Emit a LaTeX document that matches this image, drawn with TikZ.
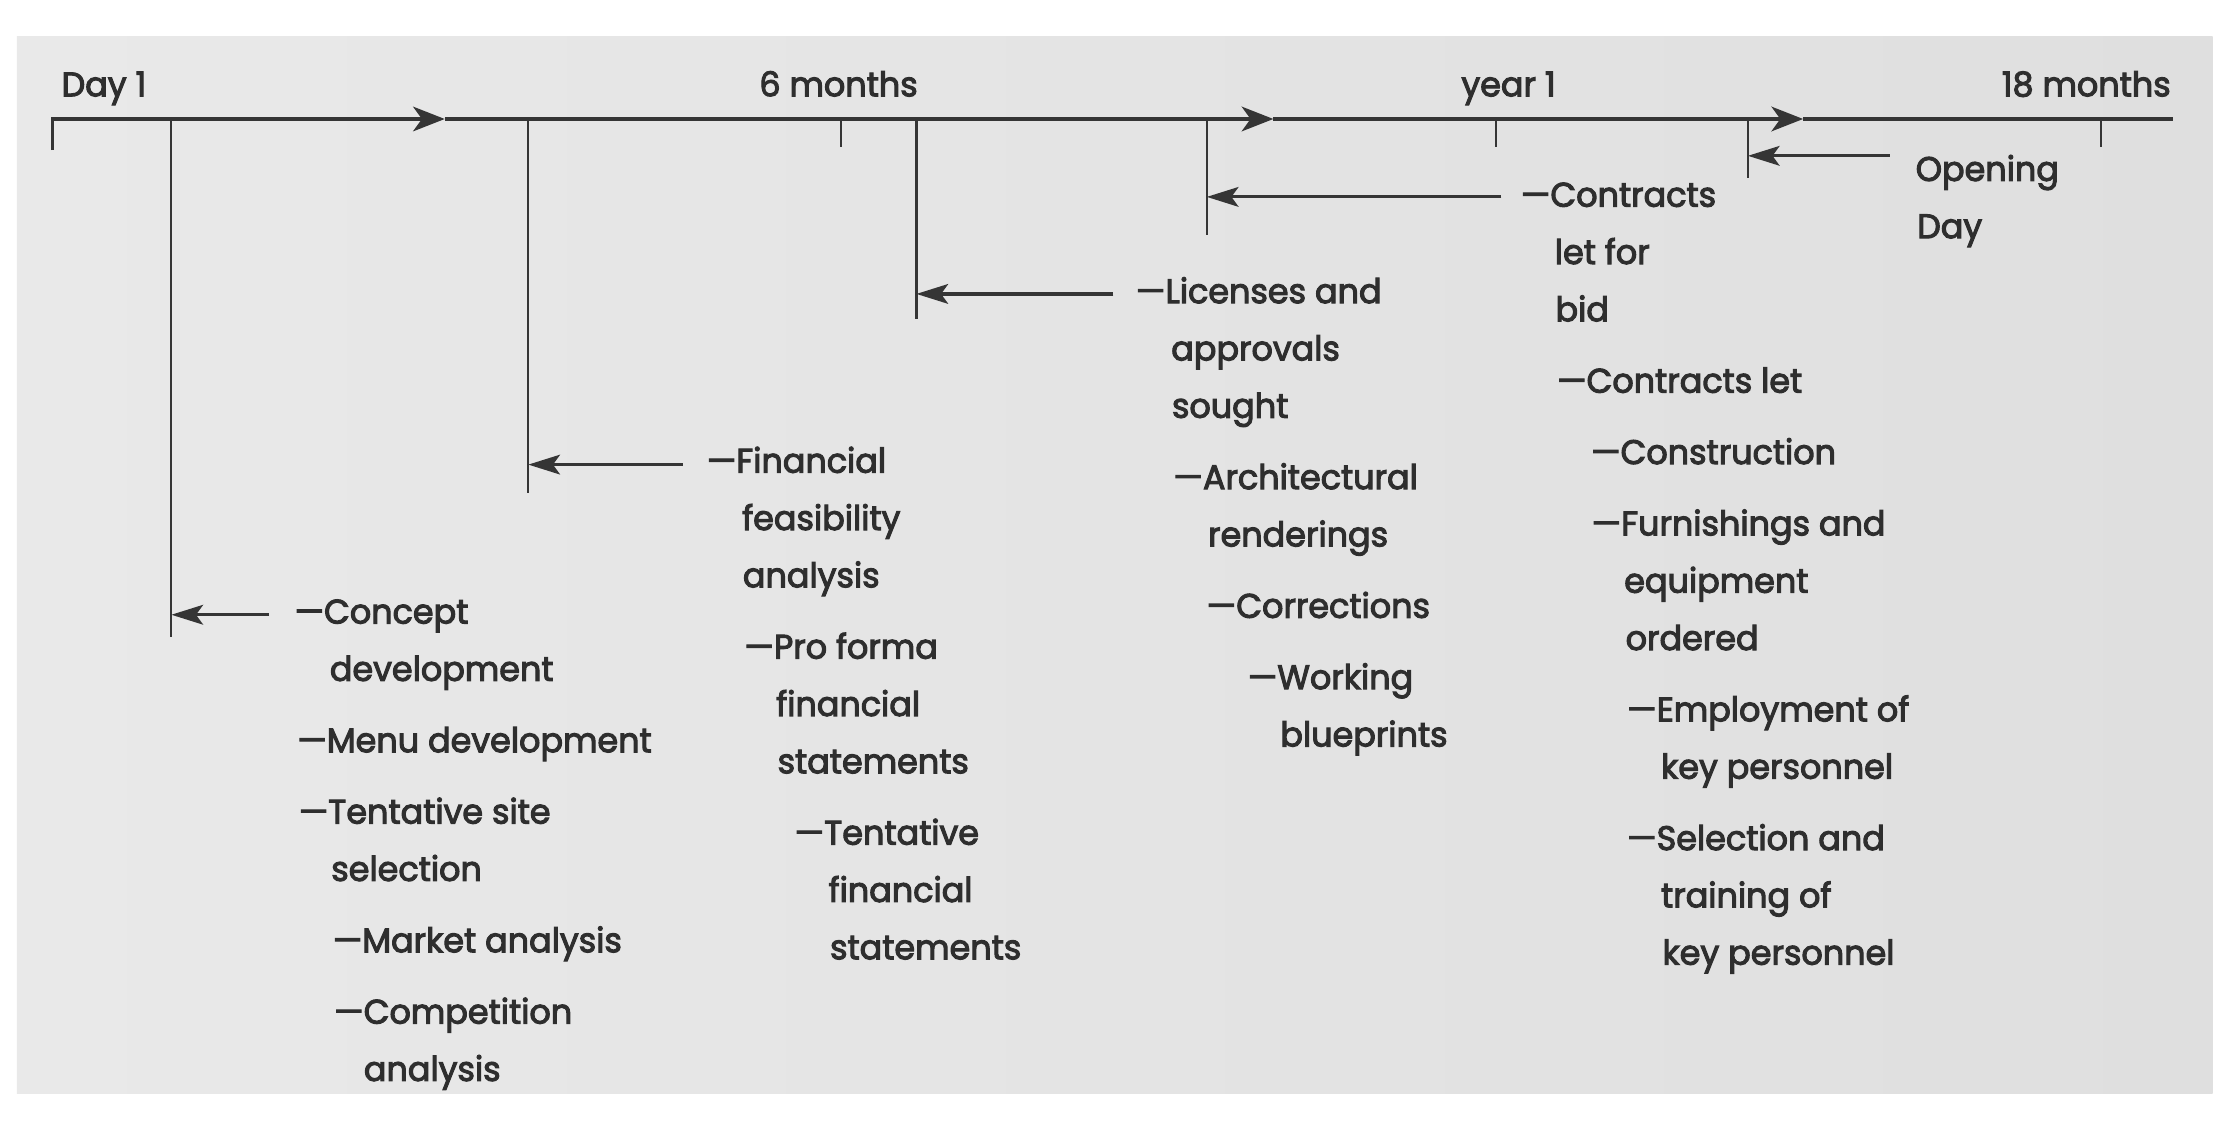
\documentclass[tikz,border=0pt]{standalone}
\usepackage{fontspec}
\setmainfont{Poppins}[FakeBold=3, FakeStretch=0.98]
\usetikzlibrary{arrows.meta}
\definecolor{ink}{HTML}{2E2E2E}
\definecolor{linec}{HTML}{353535}
\definecolor{paperl}{HTML}{E9E9E9}
\definecolor{paperr}{HTML}{DFDFDF}
\newlength{\upx}\setlength{\upx}{0.403pt}
\newcommand{\sh}[1]{\hspace*{#1\upx}}
\begin{document}
\begin{tikzpicture}[x=0.014165cm, y=-0.014165cm,
    task/.style={anchor=north west, inner sep=0pt, align=left, text=ink, font=\fontsize{9.7}{16.3}\selectfont},
    period/.style={inner sep=0pt, text=ink, font=\fontsize{9.7}{16.3}\selectfont},
    tline/.style={draw=linec, line width=1pt},
    drop/.style={draw=linec, line width=0.6pt},
    tarr/.style={tline, -{Stealth[length=9pt,width=7pt,inset=2.5pt]}},
    larr/.style={draw=linec, line width=0.9pt, -{Stealth[length=9pt,width=5.6pt,inset=2pt]}}]
  \useasboundingbox (0,0) rectangle (1568,797.7);
  \fill[white] (0,0) rectangle (1568,797.7);
  \shade[left color=paperl, right color=paperr] (12,26) rectangle (1562,772);

  % time line
  \coordinate (t0)  at (37,84);
  \coordinate (t0b) at (37,106);
  \coordinate (h1)  at (314,84);
  \coordinate (h2)  at (899,84);
  \coordinate (h3)  at (1273,84);
  \coordinate (t1)  at (1534,84);
  \draw[tarr] (t0b) -- (t0) -- (h1);
  \draw[tarr] (h1) -- (h2);
  \draw[tarr] (h2) -- (h3);
  \draw[tline] (h3) -- (t1);

  \coordinate (m6)   at (594,84);
  \coordinate (m6b)  at (594,104);
  \coordinate (y1)   at (1056,84);
  \coordinate (y1b)  at (1056,104);
  \coordinate (m18)  at (1483,84);
  \coordinate (m18b) at (1483,104);
  \draw[drop] (m6) -- (m6b);
  \draw[drop] (y1) -- (y1b);
  \draw[drop] (m18) -- (m18b);

  \node (day)    [period, anchor=base west] at (43,68)   {Day 1};
  \node (six)    [period, anchor=base]      at (592,68)  {6 months};
  \node (year)   [period, anchor=base]      at (1065,68) {year 1};
  \node (eight)  [period, anchor=base east] at (1533,68) {18 months};

  % drops from the time line
  \coordinate (dA) at (121,450);
  \coordinate (dB) at (373,348);
  \coordinate (dC) at (647,225);
  \coordinate (dD) at (852,166);
  \coordinate (dE) at (1234,126);
  \draw[drop] (dA |- t0) -- (dA);
  \draw[drop] (dB |- t0) -- (dB);
  \draw[drop] (dC |- t0) -- (dC);
  \draw[drop] (dD |- t0) -- (dD);
  \draw[drop] (dE |- t0) -- (dE);

  % stages
  \node (concept) [task] at (207.4,411.4) {\strut—Concept\\
    \sh{25}development\\[4pt]
    \sh{2}—Menu development\\[4pt]
    \sh{3}—Tentative site\\
    \sh{26}selection\\[4pt]
    \sh{27}—Market analysis\\[4pt]
    \sh{28}—Competition\\
    \sh{49}analysis};
  \node (finance) [task] at (498.5,304.9) {\strut—Financial\\
    \sh{25}feasibility\\
    \sh{25.5}analysis\\[4pt]
    \sh{26.5}—Pro forma\\
    \sh{49}financial\\
    \sh{50}statements\\[4pt]
    \sh{62}—Tentative\\
    \sh{86}financial\\
    \sh{87}statements};
  \node (licence) [task] at (801.4,185.2) {\strut—Licenses and\\
    \sh{25}approvals\\
    \sh{25.5}sought\\[4pt]
    \sh{26.5}—Architectural\\
    \sh{51}renderings\\[4pt]
    \sh{50}—Corrections\\[4pt]
    \sh{79}—Working\\
    \sh{102}blueprints};
  \node (contract) [task] at (1073.2,117.1) {\strut—Contracts\\
    \sh{24}let for\\
    \sh{24.5}bid\\[4pt]
    \sh{25.5}—Contracts let\\[4pt]
    \sh{49.5}—Construction\\[4pt]
    \sh{50}—Furnishings and\\
    \sh{73}equipment\\
    \sh{74}ordered\\[4pt]
    \sh{75}—Employment of\\
    \sh{99}key personnel\\[4pt]
    \sh{75}—Selection and\\
    \sh{99}training of\\
    \sh{100}key personnel};
  \node (opening) [task] at (1352,98.9) {\strut Opening\\
    \sh{1}Day};

  % arrows back to the time line
  \coordinate (aA) at (190,434);
  \coordinate (aB) at (482,328);
  \coordinate (aC) at (786,207.5);
  \coordinate (aD) at (1060,139);
  \coordinate (aE) at (1334,110);
  \draw[larr] (aA) -- (aA -| dA);
  \draw[larr] (aB) -- (aB -| dB);
  \draw[larr] (aC) -- (aC -| dC);
  \draw[larr] (aD) -- (aD -| dD);
  \draw[larr] (aE) -- (aE -| dE);
\end{tikzpicture}
\end{document}
